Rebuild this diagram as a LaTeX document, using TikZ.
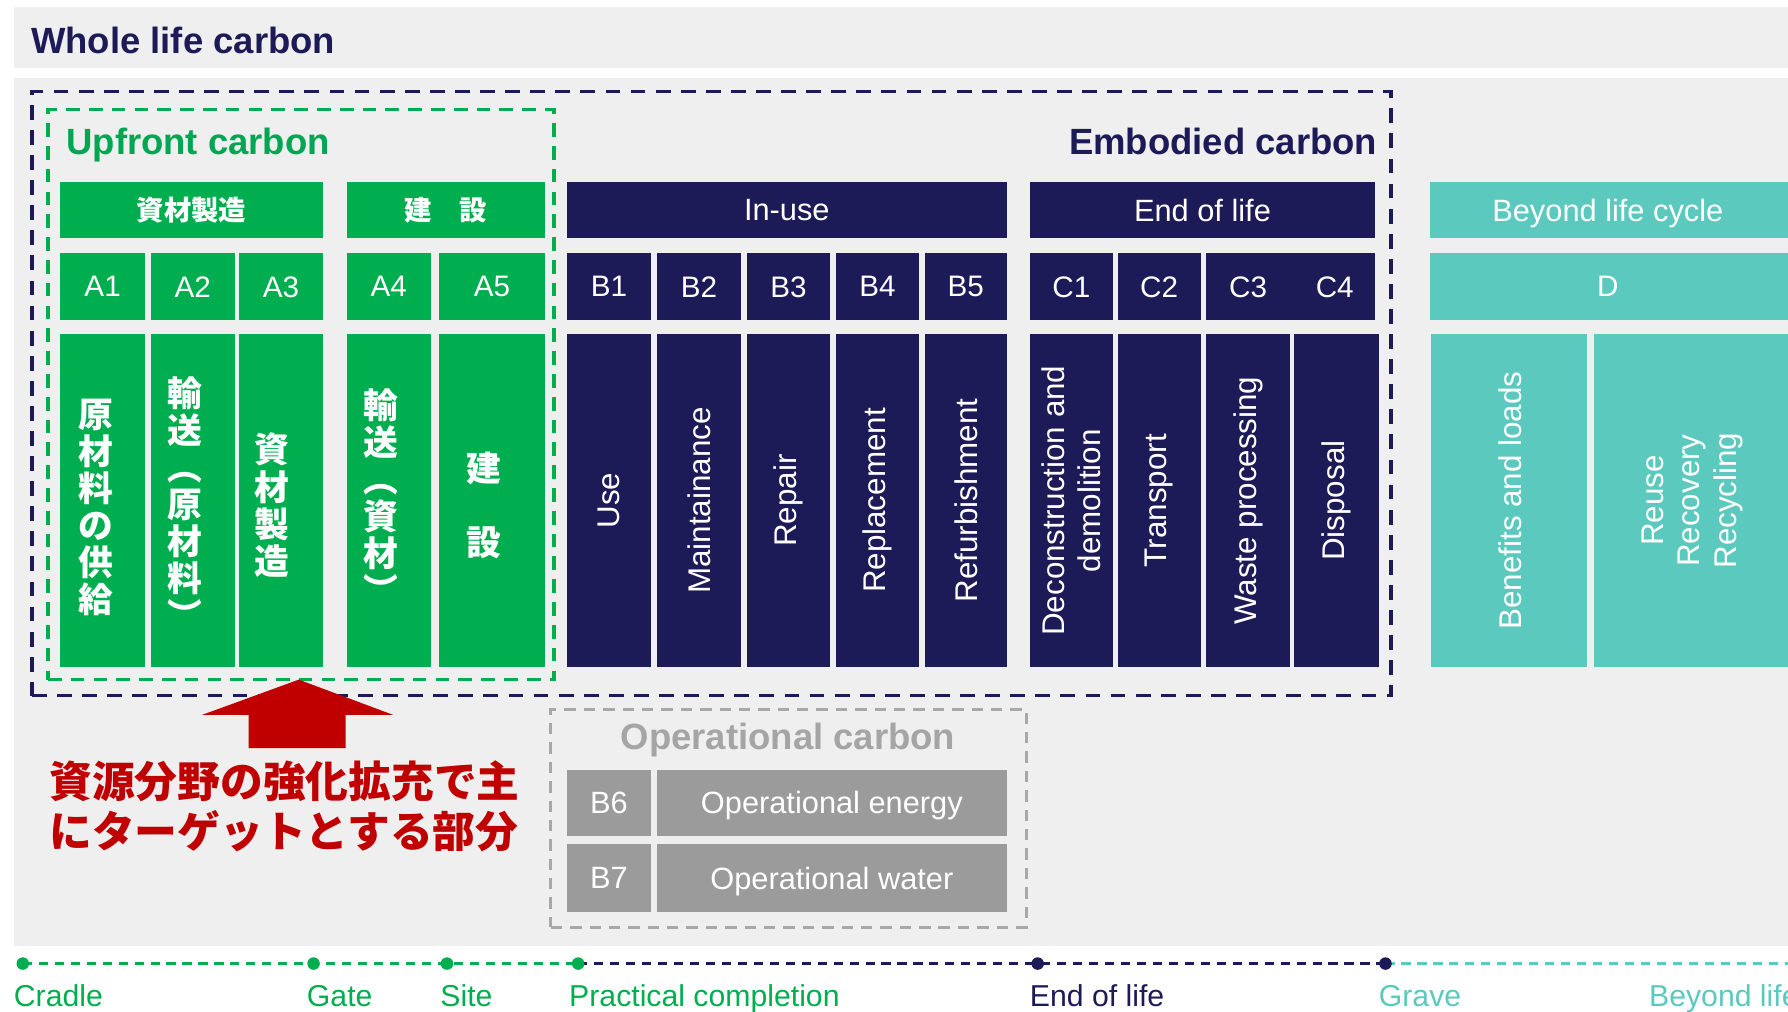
\documentclass[tikz,border=0pt]{standalone}
\usepackage{fontspec}
\setmainfont{Liberation Sans}
\newfontfamily\jp{Noto Sans CJK JP}
\definecolor{wgreen}{HTML}{00AE4F}
\definecolor{gtext}{HTML}{00A651}
\definecolor{wnavy}{HTML}{1D1A58}
\definecolor{wteal}{HTML}{5CC9BF}
\definecolor{wgray}{HTML}{9B9B9B}
\definecolor{optext}{HTML}{A5A5A5}
\definecolor{gdash}{HTML}{A8A8A8}
\definecolor{wred}{HTML}{C00000}
\definecolor{bggray}{HTML}{EFEFEF}
\newcommand\mkcell[6]{\node[cellbox, fill=#6, minimum width={(#4)-(#2)}, minimum height={(#5)-(#3)}] (#1) at ({((#2)+(#4))/2},{((#3)+(#5))/2}) {};}
\begin{document}
\begin{tikzpicture}[x=1pt,y=-1pt,
  cellbox/.style={inner sep=0, outer sep=0, draw=none},
  codetxt/.style={text=white, font=\fontsize{26}{30}\selectfont, inner sep=0, text depth=0pt},
  headtxt/.style={text=white, font=\fontsize{27}{30}\selectfont, inner sep=0, text depth=0pt},
  optxt/.style={text=white, font=\fontsize{27}{30}\selectfont, inner sep=0, text depth=0pt},
  rottxt/.style={text=white, rotate=90, align=center, font=\fontsize{27.5}{32}\selectfont, inner sep=0},
  jvtxt/.style={text=white, align=center, font=\jp\bfseries\fontsize{30.5}{32.5}\selectfont, inner sep=0},
  jhtxt/.style={text=white, font=\jp\bfseries\fontsize{24}{28}\selectfont, inner sep=0},
  bigtxt/.style={inner sep=0, text depth=0pt, font=\bfseries\fontsize{32}{36}\selectfont},
  navydash/.style={draw=wnavy, line width=3pt, dash pattern=on 13pt off 9pt, inner sep=0, outer sep=0},
  greendash/.style={draw=wgreen, line width=3pt, dash pattern=on 12pt off 8pt, inner sep=0, outer sep=0},
  graydash/.style={draw=gdash, line width=2.5pt, dash pattern=on 10pt off 7pt, inner sep=0, outer sep=0},
  tl/.style={line width=3pt, dash pattern=on 8pt off 6pt},
  tlab/.style={anchor=west, inner sep=0, text depth=0pt, font=\fontsize{26.5}{30}\selectfont},
  dot/.style={circle, inner sep=0, minimum size=11pt}
]
\useasboundingbox (0,0) rectangle (1568,887);
\fill[white] (0,0) rectangle (1568,887);
% panels
\fill[bggray] (12,6) rectangle (1568,60);
\fill[bggray] (12,68) rectangle (1568,830);
\node[bigtxt, anchor=west, text=wnavy] (title) at (27,35) {Whole life carbon};

% containers
\node[navydash, minimum width=1192, minimum height=530] (emb) at (624,345) {};
\node[greendash, minimum width=444, minimum height=500] (upf) at (264,346) {};
\node[graydash, minimum width=417, minimum height=191] (opc) at (691.5,717.5) {};
\node[bigtxt, anchor=west, text=gtext] (upft) at (58,124) {Upfront carbon};
\node[bigtxt, anchor=east, text=wnavy] (embt) at (1208,124) {Embodied carbon};
\node[bigtxt, text=optext] (opct) at (691,646) {Operational carbon};

% header row
\mkcell{hA13}{53}{160}{283}{209}{wgreen}
\mkcell{hA45}{304}{160}{478}{209}{wgreen}
\mkcell{hB}{497}{160}{883}{209}{wnavy}
\mkcell{hC}{903}{160}{1206}{209}{wnavy}
\mkcell{hD}{1254}{160}{1570}{209}{wteal}
\node[jhtxt] at (hA13) {資材製造};
\node[jhtxt] at (hA45) {建　設};
\node[headtxt] at (hB) {In-use};
\node[headtxt] at (hC) {End of life};
\node[headtxt] at (1410,184.5) {Beyond life cycle};

% code row
\mkcell{cA1}{53}{222}{127}{281}{wgreen}
\mkcell{cA2}{132}{222}{206}{281}{wgreen}
\mkcell{cA3}{210}{222}{283}{281}{wgreen}
\mkcell{cA4}{304}{222}{378}{281}{wgreen}
\mkcell{cA5}{385}{222}{478}{281}{wgreen}
\mkcell{cB1}{497}{222}{571}{281}{wnavy}
\mkcell{cB2}{576}{222}{650}{281}{wnavy}
\mkcell{cB3}{655}{222}{728}{281}{wnavy}
\mkcell{cB4}{733}{222}{806}{281}{wnavy}
\mkcell{cB5}{811}{222}{883}{281}{wnavy}
\mkcell{cC1}{903}{222}{976}{281}{wnavy}
\mkcell{cC2}{980}{222}{1053}{281}{wnavy}
\mkcell{cC34}{1058}{222}{1206}{281}{wnavy}
\mkcell{cD}{1254}{222}{1570}{281}{wteal}
\node[codetxt] at (cA1) {A1};
\node[codetxt] at (cA2) {A2};
\node[codetxt] at (cA3) {A3};
\node[codetxt] at (cA4) {A4};
\node[codetxt] at (cA5) {A5};
\node[codetxt] at (cB1) {B1};
\node[codetxt] at (cB2) {B2};
\node[codetxt] at (cB3) {B3};
\node[codetxt] at (cB4) {B4};
\node[codetxt] at (cB5) {B5};
\node[codetxt] at (cC1) {C1};
\node[codetxt] at (cC2) {C2};
\node[codetxt] at (1094.5,251.5) {C3};
\node[codetxt] at (1170.5,251.5) {C4};
\node[codetxt] at (1410,251.5) {D};

% tall row
\mkcell{tA1}{53}{293}{127}{585}{wgreen}
\mkcell{tA2}{132}{293}{206}{585}{wgreen}
\mkcell{tA3}{210}{293}{283}{585}{wgreen}
\mkcell{tA4}{304}{293}{378}{585}{wgreen}
\mkcell{tA5}{385}{293}{478}{585}{wgreen}
\mkcell{tB1}{497}{293}{571}{585}{wnavy}
\mkcell{tB2}{576}{293}{650}{585}{wnavy}
\mkcell{tB3}{655}{293}{728}{585}{wnavy}
\mkcell{tB4}{733}{293}{806}{585}{wnavy}
\mkcell{tB5}{811}{293}{883}{585}{wnavy}
\mkcell{tC1}{903}{293}{976}{585}{wnavy}
\mkcell{tC2}{980}{293}{1053}{585}{wnavy}
\mkcell{tC3}{1058}{293}{1131}{585}{wnavy}
\mkcell{tC4}{1135}{293}{1209}{585}{wnavy}
\mkcell{tD1}{1255}{293}{1392}{585}{wteal}
\mkcell{tD2}{1398}{293}{1570}{585}{wteal}
\node[jvtxt] at ([xshift=-6,yshift=-6]tA1.center) {原\\材\\料\\の\\供\\給};
\node[jvtxt] at ([xshift=-7,yshift=-2]tA2.center) {輸\\送\\︵\\原\\材\\料\\︶};
\node[jvtxt] at ([xshift=-8,yshift=-4]tA3.center) {資\\材\\製\\造};
\node[jvtxt] at ([xshift=-7,yshift=4]tA4.center) {輸\\送\\︵\\資\\材\\︶};
\node[jvtxt] at ([xshift=-7,yshift=-4]tA5.center) {建\\\mbox{}\\設};
\node[rottxt] at (tB1) {Use};
\node[rottxt] at (tB2) {Maintainance};
\node[rottxt] at (tB3) {Repair};
\node[rottxt] at (tB4) {Replacement};
\node[rottxt] at (tB5) {Refurbishment};
\node[rottxt] at (tC1) {Deconstruction and\\demolition};
\node[rottxt] at (tC2) {Transport};
\node[rottxt] at (tC3) {Waste processing};
\node[rottxt] at (tC4) {Disposal};
\node[rottxt] at ([xshift=1]tD1.center) {Benefits and loads};
\node[rottxt] at (tD2) {Reuse\\Recovery\\Recycling};

% operational
\mkcell{oB6}{497}{675}{571}{733}{wgray}
\mkcell{oE}{576}{675}{883}{733}{wgray}
\mkcell{oB7}{497}{740}{571}{800}{wgray}
\mkcell{oW}{576}{740}{883}{800}{wgray}
\node[optxt] at (oB6) {B6};
\node[optxt] at (oE) {Operational energy};
\node[optxt] at (oB7) {B7};
\node[optxt] at (oW) {Operational water};

% arrow
\fill[wred] (262,596) -- (345,627) -- (303,627) -- (303,656) -- (218,656) -- (218,627) -- (177,627) -- cycle;
\node[anchor=west, inner sep=0, align=left, text=wred, font=\jp\bfseries\fontsize{37.5}{44}\selectfont] (note) at (43,707) {資源分野の強化拡充で主\\にターゲットとする部分};

% timeline
\coordinate (t0) at (20,845);
\coordinate (t1) at (275,845);
\coordinate (t2) at (392,845);
\coordinate (t3) at (507,845);
\coordinate (t4) at (910,845);
\coordinate (t5) at (1215,845);
\coordinate (t6) at (1573,845);
\draw[tl, wgreen] (t0) -- (t3);
\draw[tl, wnavy] (t3) -- (t5);
\draw[tl, wteal] (t5) -- (t6);
\foreach \p in {t0,t1,t2,t3} \node[dot, fill=wgreen] at (\p) {};
\foreach \p in {t4,t5} \node[dot, fill=wnavy] at (\p) {};
\node[dot, fill=wteal] at (t6) {};
\node[tlab, text=wgreen] (l0) at (12,873) {Cradle};
\node[tlab, text=wgreen] (l1) at (269,873) {Gate};
\node[tlab, text=wgreen] (l2) at (386,873) {Site};
\node[tlab, text=wgreen] (l3) at (499,873) {Practical completion};
\node[tlab, text=wnavy] (l4) at (903,873) {End of life};
\node[tlab, text=wteal] (l5) at (1209,873) {Grave};
\node[tlab, text=wteal] (l6) at (1446,873) {Beyond life};
\end{tikzpicture}
\end{document}
